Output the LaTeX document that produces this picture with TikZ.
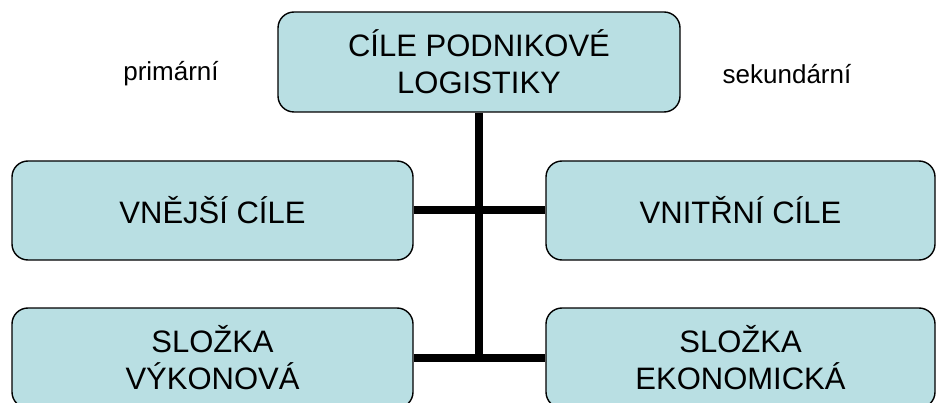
\documentclass[tikz,border=0pt]{standalone}
\usepackage{fontspec}
\setmainfont{Liberation Sans}
\definecolor{boxfill}{RGB}{185,223,227}
\begin{document}
\begin{tikzpicture}[x=1pt,y=-1pt,
  goalbox/.style={draw=black, line width=1.4pt, fill=boxfill, rounded corners=16pt,
    align=center, inner sep=0pt, font=\fontsize{31}{37}\selectfont},
  tree/.style={line width=8pt, draw=black},
  sidelabel/.style={inner sep=0pt, font=\fontsize{26}{30}\selectfont}]
\useasboundingbox (0,0) rectangle (936,403);
\node[goalbox, minimum width=402pt, minimum height=100pt] (top) at (479,62) {CÍLE PODNIKOVÉ\\LOGISTIKY};
\node[goalbox, minimum width=401pt, minimum height=99pt] (l1) at (212.5,210.5) {VNĚJŠÍ CÍLE};
\node[goalbox, minimum width=389pt, minimum height=99pt] (r1) at (740.5,210.5) {VNITŘNÍ CÍLE};
\node[goalbox, minimum width=401pt, minimum height=100pt] (l2) at (212.5,358) {SLOŽKA\\VÝKONOVÁ};
\node[goalbox, minimum width=389pt, minimum height=100pt] (r2) at (740.5,358) {SLOŽKA\\EKONOMICKÁ};
\node[sidelabel] (prim) at (171,74) {primární};
\node[sidelabel] (sek) at (787,74) {sekundární};
\coordinate (jb) at ([yshift=4pt]top.south |- l2.east);
\draw[tree] (l1.east) -- (r1.west);
\draw[tree] (l2.east) -- (r2.west);
\draw[tree] (top.south) -- (jb);
\end{tikzpicture}
\end{document}
